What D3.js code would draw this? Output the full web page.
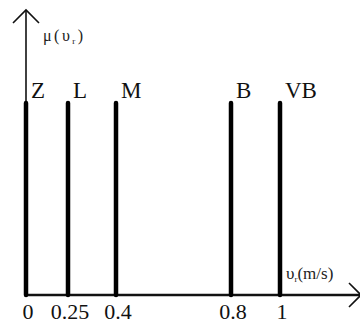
<!DOCTYPE html>
<html>
<head>
<meta charset="utf-8">
<script src="https://cdn.jsdelivr.net/npm/d3@7"></script>
<style>
  body { margin: 0; background: #fff; }
  svg { display: block; }
</style>
</head>
<body>
<svg id="chart"></svg>
<script>
// fuzzy sets of the relative speed (singletons)
const categories = ["Z", "L", "M", "B", "VB"];
const centers = [0, 0.25, 0.4, 0.8, 1];
const memberships = [1, 1, 1, 1, 1];
const tickLabels = ["0", "0.25", "0.4", "0.8", "1"];

const width = 360, height = 324;
const serif = "'Liberation Serif', 'Times New Roman', serif";

const svg = d3.select("#chart")
  .attr("width", width)
  .attr("height", height)
  .attr("font-family", serif);

// the drawing is not to scale, so the axis is piecewise linear between the ticks
const x = d3.scaleLinear()
  .domain(centers)
  .range([26, 68, 116, 231, 280]);

const y = d3.scaleLinear()
  .domain([0, 1])
  .range([295, 103]);

// axes
svg.append("line")
  .attr("x1", x(0)).attr("x2", x(0))
  .attr("y1", y(0) + 1).attr("y2", 10)
  .attr("stroke", "#111").attr("stroke-width", 1.6);

svg.append("path")
  .attr("d", `M${x(0) - 13},23 L${x(0)},10 L${x(0) + 13},23`)
  .attr("fill", "none").attr("stroke", "#111").attr("stroke-width", 1.6);

svg.append("line")
  .attr("x1", x(0) - 1).attr("x2", 362)
  .attr("y1", y(0)).attr("y2", y(0))
  .attr("stroke", "#111").attr("stroke-width", 2.6);

svg.append("path")
  .attr("d", `M349,${y(0) - 12} L361,${y(0)} L349,${y(0) + 12}`)
  .attr("fill", "none").attr("stroke", "#111").attr("stroke-width", 1.6);

// bars
svg.selectAll(".bar")
  .data(categories).enter()
  .append("line")
  .attr("class", "bar")
  .attr("x1", (d, i) => x(centers[i]))
  .attr("x2", (d, i) => x(centers[i]))
  .attr("y1", y(0))
  .attr("y2", (d, i) => y(memberships[i]))
  .attr("stroke", "#000")
  .attr("stroke-width", 4.5)
  .attr("stroke-linecap", "round");

// set names
svg.selectAll(".name")
  .data(categories).enter()
  .append("text")
  .attr("class", "name")
  .attr("x", (d, i) => x(centers[i]) + 5)
  .attr("y", (d, i) => y(memberships[i]) - 5)
  .attr("font-family", serif)
  .attr("font-size", 23)
  .attr("fill", "#111")
  .text(d => d);

// tick labels
svg.selectAll(".tick")
  .data(tickLabels).enter()
  .append("text")
  .attr("class", "tick")
  .attr("x", (d, i) => x(centers[i]) + 2)
  .attr("y", 319)
  .attr("text-anchor", "middle")
  .attr("font-family", serif)
  .attr("font-size", 22)
  .attr("fill", "#111")
  .text(d => d);

// axis titles
const yt = svg.append("text")
  .attr("x", 43).attr("y", 41)
  .attr("font-family", serif)
  .attr("font-size", 16)
  .attr("letter-spacing", 2.5)
  .attr("fill", "#222");
yt.append("tspan").text("\u03bc(\u03c5");
yt.append("tspan").attr("dy", 3).attr("font-size", 9).text("r");
yt.append("tspan").attr("dy", -3).text(")");

const xt = svg.append("text")
  .attr("x", 286).attr("y", 279)
  .attr("font-family", serif)
  .attr("font-size", 17)
  .attr("fill", "#222");
xt.append("tspan").text("\u03c5");
xt.append("tspan").attr("dy", 3).attr("font-size", 9).text("r");
xt.append("tspan").attr("dy", -3).text("(m/s)");
</script>
</body>
</html>
